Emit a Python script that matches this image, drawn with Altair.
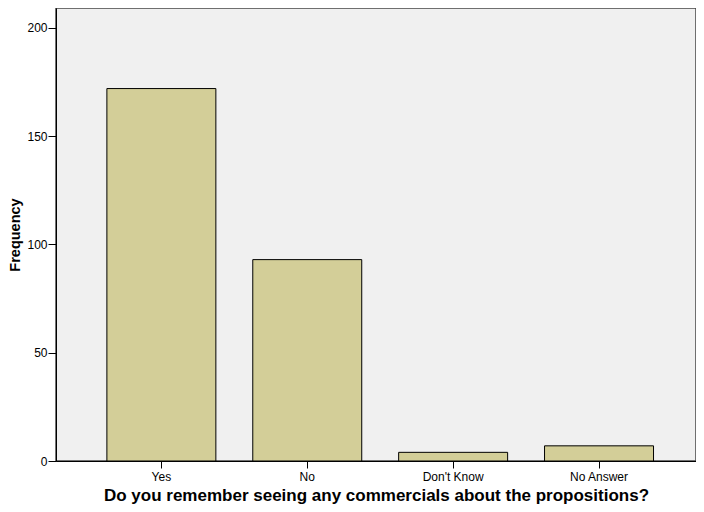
import altair as alt
import pandas as pd

categories = ["Yes", "No", "Don't Know", "No Answer"]
frequencies = [172, 93, 4, 7]

df = pd.DataFrame({"answer": categories, "freq": frequencies})

chart = alt.Chart(df).mark_bar(
    color="#D3CE98", stroke="#000000", strokeWidth=1
).encode(
    x=alt.X("answer:N", sort=categories,
            scale=alt.Scale(paddingInner=0.253, paddingOuter=0.32, align=0.545),
            axis=alt.Axis(title="Do you remember seeing any commercials about the propositions?",
                          labelAngle=0, labelFontSize=12, labelColor="#000000",
                          labelFont="Liberation Sans", labelPadding=3,
                          tickSize=7, tickColor="#000000", domainColor="#000000",
                          titleFont="Liberation Sans", titleFontSize=17, titleFontWeight="bold",
                          titleColor="#000000", titlePadding=5)),
    y=alt.Y("freq:Q", scale=alt.Scale(domain=[0, 209.2], nice=False),
            axis=alt.Axis(title="Frequency", values=[0, 50, 100, 150, 200],
                          grid=False, labelFontSize=12, labelColor="#000000",
                          labelFont="Liberation Sans", labelPadding=1,
                          tickSize=8, tickColor="#000000", domainColor="#000000",
                          titleFont="Liberation Sans", titleFontSize=14.5, titleFontWeight="bold",
                          titleColor="#000000", titlePadding=4)),
).properties(
    width=640, height=453,
    autosize=alt.AutoSizeParams(type="none"),
    padding={"left": 48, "top": 0, "right": 0, "bottom": 43},
).configure_view(
    fill="#F0F0F0", stroke="#444444", strokeWidth=1.5
)

chart.save("out.html", embed_options={"renderer": "svg", "actions": False})
